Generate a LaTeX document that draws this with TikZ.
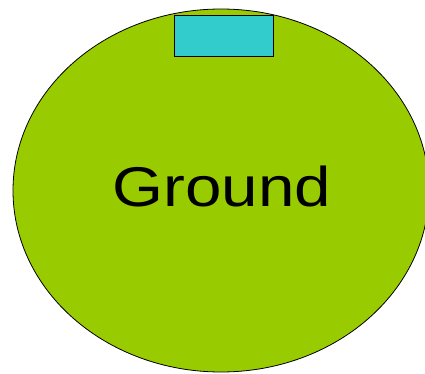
\documentclass[tikz,border=0pt]{standalone}
\usepackage{fontspec}
\setmainfont{Liberation Sans}
\usepackage{xcolor}
\definecolor{fgreen}{HTML}{99CC00}
\definecolor{fcyan}{HTML}{33CCCC}
\tikzset{
  groundarea/.style = {draw, line width=0.8pt, fill=fgreen, ellipse,
                       minimum width=416pt, minimum height=363pt, inner sep=0pt},
  padbox/.style     = {draw, line width=1pt, fill=fcyan, rectangle,
                       minimum width=99pt, minimum height=41pt, inner sep=0pt},
  bigtext/.style    = {font=\fontsize{56}{60}\selectfont, xscale=1.17, inner sep=0pt},
}
\usetikzlibrary{shapes.geometric}
\begin{document}
\begin{tikzpicture}[x=1pt, y=-1pt]
\useasboundingbox (0,0) rectangle (425,374);
\clip (0,0) rectangle (425,374);
% ---------- ground ----------
\node[groundarea] (ground) at (221,190.5) {};
% ---------- pad ----------
\node[padbox] (pad) at (224,36.5) {};
% ---------- label ----------
\node[bigtext, anchor=base] (groundlabel) at (222,206.7) {Ground};
\end{tikzpicture}
\end{document}
